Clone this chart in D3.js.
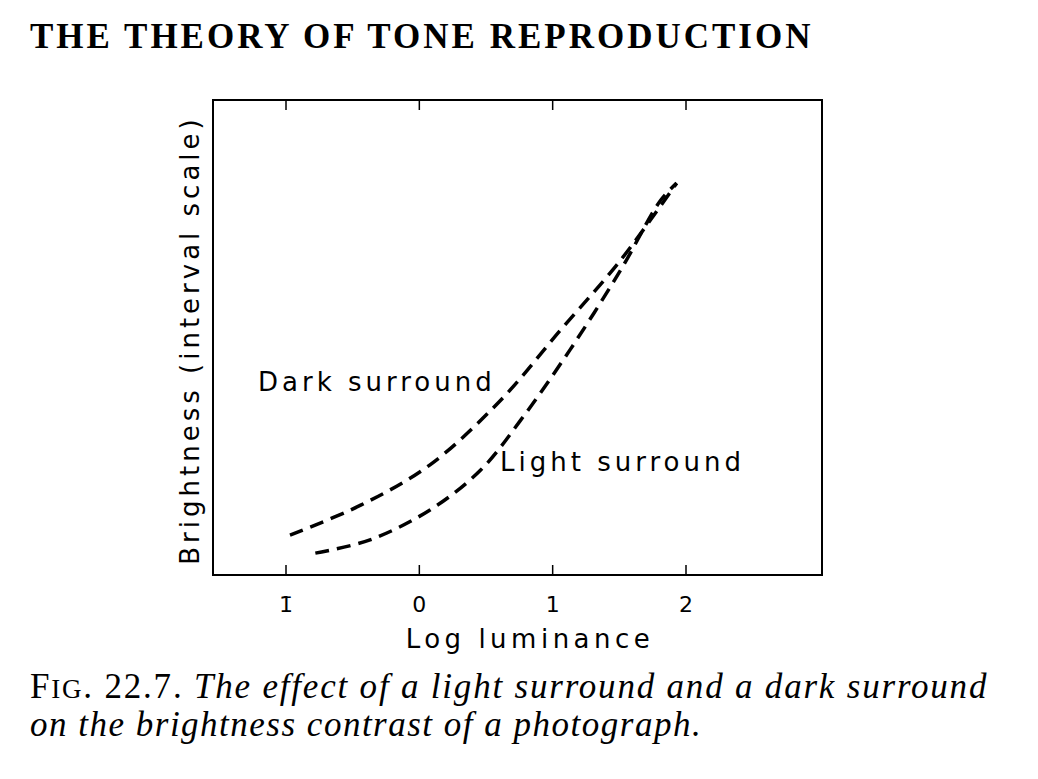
<!DOCTYPE html>
<html><head><meta charset="utf-8">
<script src="https://cdn.jsdelivr.net/npm/d3@7"></script>
<style>body{margin:0;background:#fff;}</style>
</head><body>
<script>
var tickValues = [-1, 0, 1, 2];
var tickLabels = ["1\u0304", "0", "1", "2"];
var darkX = [-0.97, -0.44, 0.08, 0.61, 1.06, 1.51, 1.93];
var darkY = [8.4, 14.7, 23.2, 36.8, 51.6, 66.3, 82.5];
var lightX = [-0.78, -0.37, 0.08, 0.46, 0.76, 1.13, 1.51, 1.81, 1.93];
var lightY = [4.6, 7.4, 13.7, 22.1, 32.6, 47.4, 64.2, 78.9, 82.5];

var svg = d3.select("body").append("svg").attr("width", 1038).attr("height", 779);
var plotLeft = 213, plotRight = 822, plotTop = 100, plotBottom = 575;
var x = d3.scaleLinear().domain([-1, 2]).range([286, 686]);
var y = d3.scaleLinear().domain([0, 100]).range([plotBottom, plotTop]);

svg.append("text").attr("x", 30).attr("y", 48)
  .style("font-family", "Liberation Serif").style("font-weight", "bold")
  .style("font-size", "35px").style("letter-spacing", "3px")
  .text("THE THEORY OF TONE REPRODUCTION");

svg.append("rect").attr("x", plotLeft).attr("y", plotTop)
  .attr("width", plotRight - plotLeft).attr("height", plotBottom - plotTop)
  .attr("fill", "none").attr("stroke", "#000").attr("stroke-width", 2);

// ticks bottom (up) and top (down)
svg.selectAll(".tb").data(tickValues).enter().append("line")
  .attr("x1", d => x(d)).attr("x2", d => x(d)).attr("y1", plotBottom).attr("y2", plotBottom - 10)
  .attr("stroke", "#000").attr("stroke-width", 1.5);
svg.selectAll(".tt").data(tickValues).enter().append("line")
  .attr("x1", d => x(d)).attr("x2", d => x(d)).attr("y1", plotTop).attr("y2", plotTop + 10)
  .attr("stroke", "#000").attr("stroke-width", 1.5);
svg.selectAll(".tl").data(tickValues).enter().append("text")
  .attr("x", d => x(d)).attr("y", 612).attr("text-anchor", "middle")
  .style("font-family", "DejaVu Sans").style("font-size", "22px")
  .text((d, i) => tickLabels[i]);

svg.append("text").attr("x", 530).attr("y", 648).attr("text-anchor", "middle")
  .style("font-family", "DejaVu Sans").style("font-size", "26px").style("letter-spacing", "4.5px")
  .text("Log luminance");
svg.append("text").attr("transform", "translate(199,340) rotate(-90)").attr("text-anchor", "middle")
  .style("font-family", "DejaVu Sans").style("font-size", "26px").style("letter-spacing", "4px")
  .text("Brightness (interval scale)");

var line = d3.line().curve(d3.curveCatmullRom).x(d => x(d[0])).y(d => y(d[1]));
[[darkX, darkY], [lightX, lightY]].forEach(function(s) {
  svg.append("path").datum(s[0].map((v, i) => [v, s[1][i]]))
    .attr("d", line).attr("fill", "none").attr("stroke", "#000")
    .attr("stroke-width", 3.5).attr("stroke-dasharray", "14,8");
});

svg.append("text").attr("x", 258).attr("y", 391)
  .style("font-family", "DejaVu Sans").style("font-size", "26px").style("letter-spacing", "4px")
  .text("Dark surround");
svg.append("text").attr("x", 500).attr("y", 471)
  .style("font-family", "DejaVu Sans").style("font-size", "26px").style("letter-spacing", "4px")
  .text("Light surround");

var cap = svg.append("text").attr("x", 30).attr("y", 698)
  .style("font-family", "Liberation Serif").style("font-size", "35px").style("letter-spacing", "1.8px");
cap.append("tspan").text("F");
cap.append("tspan").style("font-size", "27px").text("IG");
cap.append("tspan").text(". 22.7. ");
cap.append("tspan").style("font-style", "italic").text("The effect of a light surround and a dark surround");
svg.append("text").attr("x", 30).attr("y", 736)
  .style("font-family", "Liberation Serif").style("font-size", "35px").style("font-style", "italic")
  .style("letter-spacing", "1.5px")
  .text("on the brightness contrast of a photograph.");
</script>
</body></html>
